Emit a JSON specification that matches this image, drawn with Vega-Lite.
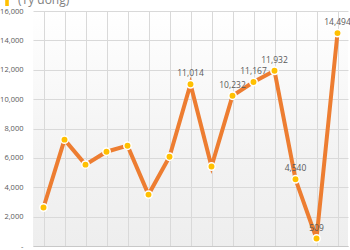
{
  "$schema": "https://vega.github.io/schema/vega-lite/v6.json",
  "width": 315,
  "height": 235,
  "autosize": {"type": "none"},
  "padding": {"left": 33, "top": 11, "right": 2, "bottom": 4},
  "background": "white",
  "config": {
    "font": "Open Sans",
    "view": {
      "stroke": null,
      "fill": {
        "gradient": "linear",
        "x1": 0, "y1": 0, "x2": 0, "y2": 1,
        "stops": [
          {"offset": 0, "color": "#ffffff"},
          {"offset": 0.6, "color": "#f3f3f3"},
          {"offset": 1, "color": "#eeeeee"}
        ]
      }
    }
  },
  "data": {
    "values": [
      {"i": 1, "v": 2620, "show": false},
      {"i": 2, "v": 7240, "show": false},
      {"i": 3, "v": 5540, "show": false},
      {"i": 4, "v": 6420, "show": false},
      {"i": 5, "v": 6830, "show": false},
      {"i": 6, "v": 3500, "show": false},
      {"i": 7, "v": 6080, "show": false},
      {"i": 8, "v": 11014, "show": true},
      {"i": 9, "v": 5410, "show": false},
      {"i": 10, "v": 10232, "show": true},
      {"i": 11, "v": 11167, "show": true},
      {"i": 12, "v": 11932, "show": true},
      {"i": 13, "v": 4540, "show": true},
      {"i": 14, "v": 509, "show": true},
      {"i": 15, "v": 14494, "show": true}
    ]
  },
  "encoding": {
    "x": {
      "field": "i",
      "type": "ordinal",
      "scale": {"type": "point", "padding": 0.5},
      "axis": {
        "title": null,
        "labels": false,
        "ticks": false,
        "grid": true,
        "gridColor": "#d9d9d9",
        "gridWidth": 1,
        "domain": true,
        "domainColor": "#c8c8c8"
      }
    },
    "y": {
      "field": "v",
      "type": "quantitative",
      "scale": {"domain": [0, 16000], "nice": false},
      "axis": {
        "title": null,
        "values": [0, 2000, 4000, 6000, 8000, 10000, 12000, 14000, 16000],
        "labelExpr": "datum.value == 0 ? '-' : format(datum.value, ',')",
        "domain": false,
        "ticks": false,
        "grid": true,
        "gridColor": "#d9d9d9",
        "labelPadding": 10,
        "labelFontSize": 7.5,
        "labelColor": "#595959"
      }
    }
  },
  "layer": [
    {
      "mark": {"type": "line", "color": "#ED7D31", "strokeWidth": 4}
    },
    {
      "mark": {"type": "point", "filled": true, "stroke": "white", "strokeWidth": 1.5, "size": 55, "opacity": 1},
      "encoding": {
        "color": {
          "datum": "(Tỷ đồng)",
          "scale": {"range": ["#FFC000"]},
          "legend": {
            "title": null,
            "orient": "none",
            "legendX": -32,
            "legendY": -17,
            "symbolType": "M-0.3,-1L0.3,-1L0.3,1L-0.3,1Z",
            "symbolSize": 144,
            "symbolStrokeWidth": 0,
            "labelFontSize": 12,
            "labelColor": "#7f7f7f",
            "labelOffset": 5
          }
        }
      }
    },
    {
      "transform": [{"filter": "datum.show"}],
      "mark": {"type": "text", "dy": -11, "fontSize": 8.5, "color": "#595959"},
      "encoding": {
        "text": {"field": "v", "type": "quantitative", "format": ","}
      }
    }
  ]
}
